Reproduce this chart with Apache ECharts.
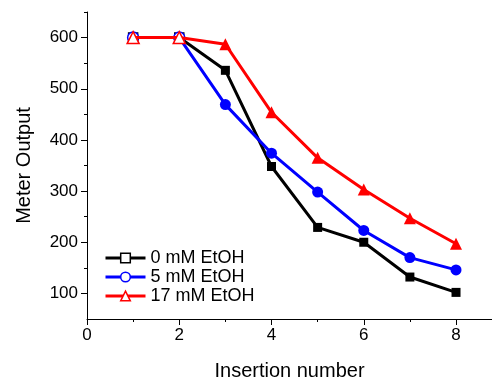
<!DOCTYPE html>
<html><head><meta charset="utf-8">
<script src="https://cdn.jsdelivr.net/npm/echarts@6/dist/echarts.min.js"></script>
<style>html,body{margin:0;padding:0;background:#fff}#c{width:492px;height:378px}</style>
</head><body><div id="c"></div>
<script>
const insertions = [1, 2, 3, 4, 5, 6, 7, 8];
const etoh0 = [600, 600, 536, 348, 229, 200, 132, 102];
const etoh5 = [600, 600, 469, 374, 298, 223, 170, 146];
const etoh17 = [600, 600, 587, 454, 365, 303, 247, 197];
const seriesNames = ['0 mM EtOH', '5 mM EtOH', '17 mM EtOH'];
const xTickLabels = [0, 2, 4, 6, 8];
const xMinorTicks = [1, 3, 5, 7];
const yTickLabels = [100, 200, 300, 400, 500, 600];
const yMinorTicks = [150, 250, 350, 450, 550, 650];
const hollowCount = 2;

const colors = ['#000000', '#0000ff', '#ff0000'];
const symbols = ['rect', 'circle', 'triangle'];
const sizes = [9, 11, 12];
const font = 'Liberation Sans, Arial, sans-serif';

function build(vals, i) {
  return vals.map((v, k) => {
    const item = { value: [insertions[k], v] };
    if (k < hollowCount) item.itemStyle = { color: '#fff', borderColor: colors[i], borderWidth: 1.5 };
    return item;
  });
}
const allVals = [etoh0, etoh5, etoh17];

const chart = echarts.init(document.getElementById('c'), null, { renderer: 'canvas' });
chart.setOption({
  animation: false,
  grid: { left: 87, right: 0, top: 12, bottom: 59, outerBoundsMode: 'none', containLabel: false },
  legend: {
    orient: 'vertical', left: 99, top: 244, itemGap: 1,
    itemWidth: 40, itemHeight: 12,
    textStyle: { fontFamily: font, fontSize: 18, color: '#000' },
    data: seriesNames.map((n, i) => ({
      name: n,
      itemStyle: { color: '#fff', borderColor: colors[i], borderWidth: 1.5, borderType: 'solid' },
      lineStyle: { color: colors[i], width: 3 }
    }))
  },
  xAxis: [{
    type: 'value', min: 0, max: 8.78,
    name: 'Insertion number', nameLocation: 'middle', nameGap: 42,
    nameTextStyle: { fontFamily: font, fontSize: 20, color: '#000' },
    axisLine: { show: true, lineStyle: { color: '#000', width: 1 } },
    axisTick: { show: true, customValues: xTickLabels, length: 6, lineStyle: { color: '#000' } },
    axisLabel: { show: true, customValues: xTickLabels, fontFamily: font, fontSize: 17, color: '#000', margin: 8 },
    splitLine: { show: false }
  }, {
    type: 'value', min: 0, max: 8.78, position: 'bottom',
    axisLine: { show: false },
    axisTick: { show: true, customValues: xMinorTicks, length: 3, lineStyle: { color: '#000' } },
    axisLabel: { show: false }, splitLine: { show: false }
  }],
  yAxis: [{
    type: 'value', min: 50, max: 650,
    name: 'Meter Output', nameLocation: 'middle', nameGap: 53,
    nameTextStyle: { fontFamily: font, fontSize: 20, color: '#000' },
    axisLine: { show: true, lineStyle: { color: '#000', width: 1 } },
    axisTick: { show: true, customValues: yTickLabels, length: 6, lineStyle: { color: '#000' } },
    axisLabel: { customValues: yTickLabels, fontFamily: font, fontSize: 17, color: '#000', margin: 9 },
    splitLine: { show: false }
  }, {
    type: 'value', min: 50, max: 650, position: 'left',
    axisLine: { show: false },
    axisTick: { show: true, customValues: yMinorTicks, length: 3, lineStyle: { color: '#000' } },
    axisLabel: { show: false }, splitLine: { show: false }
  }],
  series: allVals.map((vals, i) => ({
    name: seriesNames[i], type: 'line',
    data: build(vals, i),
    symbol: symbols[i], symbolSize: sizes[i],
    color: colors[i],
    lineStyle: { color: colors[i], width: 3 },
    itemStyle: { color: colors[i] },
    z: 2 + i
  }))
});
</script></body></html>
